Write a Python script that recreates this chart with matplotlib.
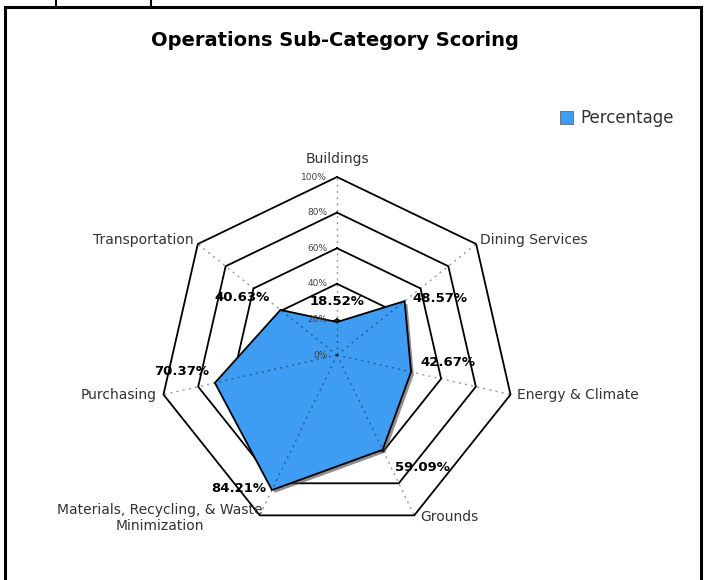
import numpy as np
import matplotlib
matplotlib.use('Agg')
import matplotlib.pyplot as plt
import matplotlib.patheffects as pe
from matplotlib.lines import Line2D

categories = ['Buildings', 'Dining Services', 'Energy & Climate', 'Grounds',
              'Materials, Recycling, & Waste\nMinimization', 'Purchasing', 'Transportation']
values = [18.52, 48.57, 42.67, 59.09, 84.21, 70.37, 40.63]
ring_levels = [0, 20, 40, 60, 80, 100]
ring_labels = ['0%', '20%', '40%', '60%', '80%', '100%']
series_name = 'Percentage'
title = 'Operations Sub-Category Scoring'

fill_color = '#3f9cf3'
W, H, DPI = 706, 580, 100
cx, cy, scale = 337, 355, 1.78   # pixel centre and pixels per percent

fig = plt.figure(figsize=(W / DPI, H / DPI), dpi=DPI)
ax = fig.add_axes([0, 0, 1, 1])
ax.set_xlim(-cx / scale, (W - cx) / scale)
ax.set_ylim((cy - H) / scale, cy / scale)
ax.axis('off')

n = len(categories)
ang = np.arange(n) * 2 * np.pi / n
sx, sy = np.sin(ang), np.cos(ang)

# rings
for r in ring_levels[1:]:
    ax.plot(np.append(r * sx, r * sx[0]), np.append(r * sy, r * sy[0]),
            color='black', lw=1.3, zorder=1)

# data polygon with shadow
px = np.array(values) * sx
py = np.array(values) * sy
ax.fill(px, py, facecolor=fill_color, edgecolor='black', lw=1.3, zorder=2,
        path_effects=[pe.SimplePatchShadow(offset=(2, -2), shadow_rgbFace='#444444', alpha=0.6),
                      pe.Normal()])

# spokes
for i in range(n):
    ax.plot([0, 100 * sx[i]], [0, 100 * sy[i]], color='black', alpha=0.4,
            lw=1.0, ls=(0, (1.5, 3)), zorder=3)

# ring labels along the top spoke
for r, lab in zip(ring_levels, ring_labels):
    ax.annotate(lab, (0, r), xytext=(-7, 0), textcoords='offset points',
                ha='right', va='center', fontsize=6.5, color='#444444', zorder=4)

# category labels
cat_pos = [((0, 8), 'center', 'bottom'), ((3, 3), 'left', 'center'),
           ((5, 0), 'left', 'center'), ((4, -1), 'left', 'center'),
           ((2, -2), 'right', 'center'), ((-5, 0), 'right', 'center'),
           ((-3, 3), 'right', 'center')]
for i, (lab, (off, ha, va)) in enumerate(zip(categories, cat_pos)):
    ax.annotate(lab, (100 * sx[i], 100 * sy[i]), xytext=off, textcoords='offset points',
                ha=ha, va=va, fontsize=10, color='#333333', multialignment='center')

# value labels
val_pos = [((0, 15), 'center'), ((6, 2), 'left'), ((7, 7), 'left'),
           ((9, -13), 'left'), ((-4, 1), 'right'), ((-4, 8), 'right'),
           ((-8, 9), 'right')]
for i, (v, (off, ha)) in enumerate(zip(values, val_pos)):
    ax.annotate(f'{v:.2f}%', (px[i], py[i]), xytext=off, textcoords='offset points',
                ha=ha, va='center', fontsize=9.5, fontweight='bold', color='black', zorder=5)

fig.text(335 / W, 1 - 41 / H, title, ha='center', va='center',
         fontsize=14, fontweight='bold', color='black')

handle = plt.Rectangle((0, 0), 1, 1, facecolor=fill_color, edgecolor='#555555', lw=0.5)
fig.legend([handle], [series_name], loc='center left', bbox_to_anchor=(545 / W, 1 - 118 / H),
           frameon=False, fontsize=12, handlelength=0.8, handleheight=0.8,
           handletextpad=0.4, labelcolor='#333333')

# outer frame of the screenshot
frame = dict(color='black', lw=2.2, transform=fig.transFigure)
fig.add_artist(Line2D([5 / W, 5 / W], [0, 1 - 7 / H], **frame))
fig.add_artist(Line2D([701 / W, 701 / W], [0, 1 - 7 / H], **frame))
fig.add_artist(Line2D([5 / W, 701 / W], [1 - 7 / H, 1 - 7 / H], **frame))
for tx in (56, 151):
    fig.add_artist(Line2D([tx / W, tx / W], [1 - 7 / H, 1], color='black', lw=1.5,
                          transform=fig.transFigure))

fig.savefig('out.png', dpi=DPI)
